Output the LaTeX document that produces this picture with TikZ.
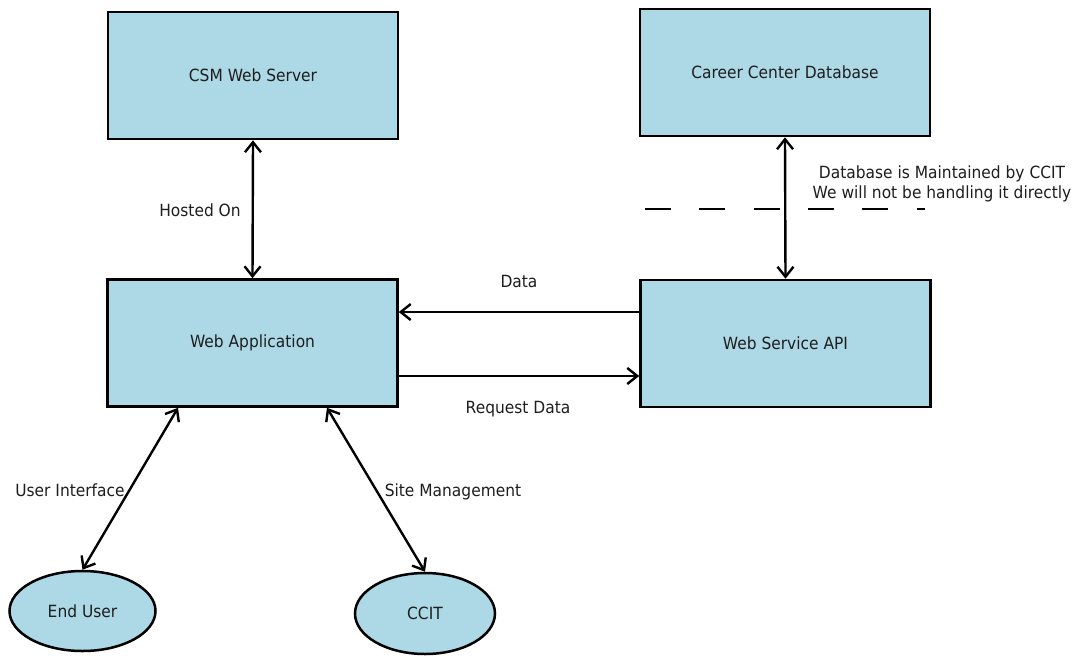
\documentclass[tikz,border=0pt]{standalone}
\usepackage{fontspec}
\setmainfont{DejaVu Sans}[FakeStretch=0.92]
\usetikzlibrary{arrows.meta,shapes.geometric}
\definecolor{boxfill}{RGB}{173,216,230}
\definecolor{txt}{RGB}{30,30,30}
\begin{document}
\begin{tikzpicture}[x=1pt,y=-1pt,
  box/.style={draw=black, fill=boxfill, line width=2.6pt, minimum width=290pt, minimum height=127pt, inner sep=0pt, font=\fontsize{16.8}{20}\selectfont, text=txt},
  oval/.style={draw=black, fill=boxfill, ellipse, line width=2.5pt, inner sep=0pt, font=\fontsize{16.8}{20}\selectfont, text=txt},
  both/.style={line width=2.4pt, {Straight Barb[length=10pt,width=16pt]}-{Straight Barb[length=10pt,width=16pt]}},
  single/.style={line width=2.4pt, -{Straight Barb[length=10pt,width=16pt]}},
  lbl/.style={font=\fontsize{16.8}{19.5}\selectfont, text=txt, inner sep=0pt},
  divider/.style={line width=2.8pt, dash pattern=on 26pt off 28.3pt}
]
\useasboundingbox[fill=white] (0,0) rectangle (1080,657);

\node[box] (csm) at (253,75.5) {CSM Web Server};
\node[box] (ccd) at (785,72.5) {Career Center Database};
\node[box] (webapp) at (252.5,343) {Web Application};
\node[box] (wsapi) at (785.5,343.5) {Web Service API};
\node[oval, minimum width=146pt, minimum height=80pt] (enduser) at (82.5,611) {End User};
\node[oval, minimum width=140pt, minimum height=81pt] (ccit) at (425,613.5) {CCIT};

\draw[both] (csm.south) -- (webapp.north);
\draw[both] (ccd.south) -- (wsapi.north);
\draw[single] (wsapi.west |- 0,312) -- (webapp.east |- 0,312);
\draw[single] (webapp.east |- 0,376) -- (wsapi.west |- 0,376);
\draw[both] ([xshift=-74.5pt]webapp.south) -- (enduser.north);
\draw[both] ([xshift=74.5pt]webapp.south) -- (ccit.north);

\coordinate (dashA) at (645,209);
\coordinate (dashB) at (925,209);
\draw[divider] (dashA) -- (dashB);

\node[lbl] (hosted) at (200,210) {Hosted On};
\node[lbl] (data) at (519,281) {Data};
\node[lbl] (req) at (518,409) {Request Data};
\node[lbl] (ui) at (70,490) {User Interface};
\node[lbl] (site) at (453,492) {Site Management};
\node[lbl, align=center] (dbnote) at (942,184) {Database is Maintained by CCIT\\We will not be handling it directly};
\end{tikzpicture}
\end{document}
